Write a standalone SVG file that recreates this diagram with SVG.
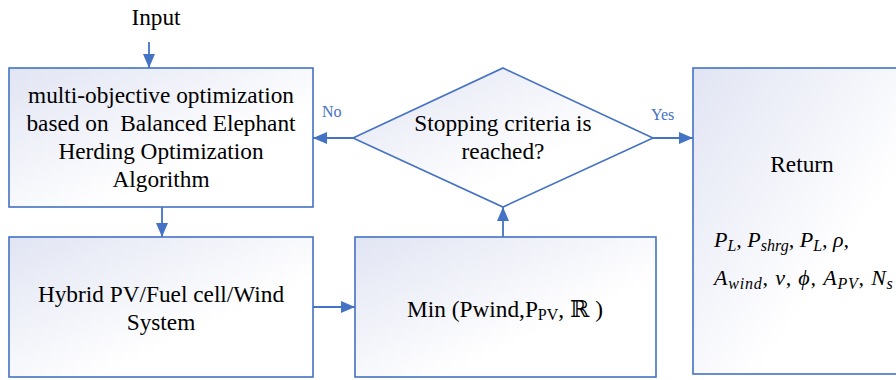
<svg xmlns="http://www.w3.org/2000/svg" width="896" height="380" viewBox="0 0 896 380">
<defs>
<linearGradient id="g" x1="0" y1="0" x2="1" y2="1">
<stop offset="0" stop-color="#e1e4f3"/>
<stop offset="0.65" stop-color="#ffffff"/>
<stop offset="1" stop-color="#ffffff"/>
</linearGradient>
<marker id="ah" viewBox="0 0 14 12" refX="14" refY="6" markerWidth="14" markerHeight="12" markerUnits="userSpaceOnUse" orient="auto">
<path d="M0,0 L14,6 L0,12 Z" fill="#4472c4"/>
</marker>
<style>
.box{fill:url(#g);stroke:#4472c4;stroke-width:1.6}
text{font-family:'Liberation Serif','DejaVu Serif',serif}
.t{font-size:23.3px;fill:#000;text-anchor:middle}
.lab{font-size:16px;fill:#4472c4}
.m{font-style:italic;font-size:22px;fill:#000}
.s{font-size:16px}
.c{stroke:#4472c4;stroke-width:1.8;fill:none;marker-end:url(#ah)}
</style>
</defs>
<g id="input"><text class="t" x="156" y="25">Input</text></g>
<g id="beho">
<rect class="box" x="9" y="68" width="304" height="139"/>
<text class="t" x="161" y="103">multi-objective optimization</text>
<text class="t" x="161" y="131" xml:space="preserve">based on  Balanced Elephant</text>
<text class="t" x="161" y="159">Herding Optimization</text>
<text class="t" x="161" y="187">Algorithm</text>
</g>
<g id="decision">
<polygon class="box" points="503,68 653,138 503,207 353,138"/>
<text class="t" x="503" y="131">Stopping criteria is</text>
<text class="t" x="503" y="159">reached?</text>
</g>
<g id="hybrid">
<rect class="box" x="9" y="237" width="304" height="140"/>
<text class="t" x="161" y="302">Hybrid PV/Fuel cell/Wind</text>
<text class="t" x="161" y="330">System</text>
</g>
<g id="min">
<rect class="box" x="355" y="237" width="301" height="140"/>
<text class="t" x="505" y="317">Min (Pwind,P<tspan class="s" dy="3">PV</tspan><tspan dy="-3">, ℝ )</tspan></text>
</g>
<g id="return">
<rect class="box" x="693" y="68" width="215" height="306"/>
<text class="t" x="802" y="172">Return</text>
<text class="m" x="714" y="247">P<tspan class="s" dy="4">L</tspan><tspan dy="-4">, P</tspan><tspan class="s" dy="4">shrg</tspan><tspan dy="-4">, P</tspan><tspan class="s" dy="4">L</tspan><tspan dy="-4">, ρ,</tspan></text>
<text class="m" x="714" y="285" letter-spacing="0.8">A<tspan class="s" dy="4">wind</tspan><tspan dy="-4">, ν, ϕ, A</tspan><tspan class="s" dy="4">PV</tspan><tspan dy="-4">, N</tspan><tspan class="s" dy="4">s</tspan></text>
</g>
<g id="connectors">
<line class="c" x1="149" y1="42" x2="149" y2="68"/>
<line class="c" x1="162" y1="207" x2="162" y2="237"/>
<line class="c" x1="313" y1="307" x2="355" y2="307"/>
<line class="c" x1="503" y1="237" x2="503" y2="207"/>
<line class="c" x1="353" y1="138" x2="313" y2="138"/>
<line class="c" x1="653" y1="138" x2="693" y2="138"/>
<text class="lab" x="322" y="117">No</text>
<text class="lab" x="651" y="120">Yes</text>
</g>
</svg>
